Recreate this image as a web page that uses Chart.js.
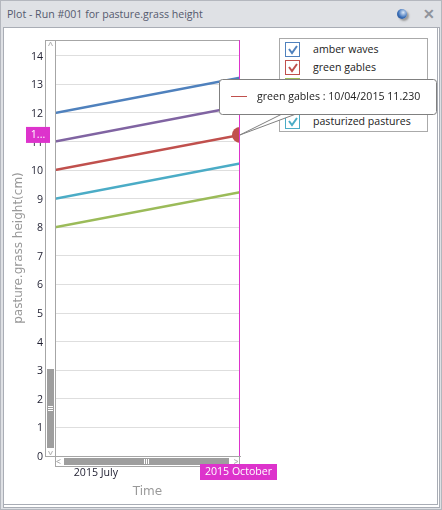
<!DOCTYPE html>
<html>
<head>
<meta charset="utf-8">
<title>Plot</title>
<script src="https://cdn.jsdelivr.net/npm/chart.js@4"></script>
<style>
html, body { margin: 0; padding: 0; background: #fff; }
body { width: 442px; height: 510px; position: relative; overflow: hidden; font-family: "Open Sans", "Noto Sans", sans-serif; }
#frame { position: absolute; left: 0; top: 0; width: 440px; height: 508px; border: 1px solid #b4b7be; background: #dfe1e5; }
#title { position: absolute; left: 6px; top: 6px; font-size: 10.6px; color: #555a6e; }
#help { position: absolute; left: 396px; top: 8px; width: 10px; height: 10px; border-radius: 50%; box-shadow: 2px 2px 2px #9a9a9a; background: radial-gradient(circle at 62% 35%, #dbe8f8, #3a6fb8 55%, #1f4480); }
#close { position: absolute; left: 422px; top: 5px; font-size: 14px; font-weight: bold; color: #8f939b; line-height: 16px; }
#outerLine { position: absolute; left: 2px; top: 26px; width: 435px; height: 479px; background: #fff; border: 1px solid #a9adb5; }
#inner { position: absolute; left: 0; top: 0; width: 433px; height: 476px; background: #fff; border-right: 1px solid #a9adb5; border-bottom: 1px solid #a9adb5; }
#chartBox { position: absolute; left: 0; top: 0; width: 442px; height: 510px; }
#legend { position: absolute; left: 279px; top: 38px; width: 147px; height: 92px; border: 1px solid #aaa; background: #fff; font-size: 10.6px; color: #222; }
.item { position: absolute; left: 5px; height: 14px; }
.box { position: absolute; left: 0; top: 0; width: 13px; height: 13px; border: 1px solid; }
.box svg { position: absolute; left: 1px; top: 1px; }
.item span { position: absolute; left: 28px; top: 0; white-space: nowrap; }
</style>
</head>
<body>
<div id="frame">
  <div id="title">Plot - Run #001 for pasture.grass height</div>
  <div id="help"></div>
  <div id="close">✕</div>
  <div id="outerLine"><div id="inner"></div></div>
</div>
<div id="legend"></div>
<div id="chartBox"><canvas id="plot" width="442" height="510"></canvas></div>
<script>
// data
const dates = [Date.UTC(2015, 5, 4), Date.UTC(2015, 9, 4)];
const seriesNames = ['amber waves', 'green gables', '', '', 'pasturized pastures'];
const seriesColors = ['#4f81bd', '#c0504d', '#9bbb59', '#8064a2', '#4bacc6'];
const amberWaves = [12, 13.23];
const greenGables = [10, 11.23];
const hiddenGreen = [8, 9.23];
const hiddenPurple = [11, 12.23];
const pasturizedPastures = [9, 10.23];
const yTicks = [0, 1, 2, 3, 4, 5, 6, 7, 8, 9, 10, 11, 12, 13, 14];
const xTickDate = Date.UTC(2015, 6, 1);
const xTickLabel = '2015 July';
const hoverLabel = '2015 October';
const hoverText = 'green gables : 10/04/2015 11.230';

const values = [amberWaves, greenGables, hiddenGreen, hiddenPurple, pasturizedPastures];
const magenta = '#dd33cc';
const frameGrey = '#a6a6a6';

// legend on the right
const legend = document.getElementById('legend');
const rows = [3, 21, 39, 57, 75];
seriesNames.forEach((name, i) => {
    const c = seriesColors[i];
    legend.innerHTML += `<div class="item" style="top:${rows[i]}px">
        <div class="box" style="border-color:${c}"><svg width="11" height="11"><path d="M2 5 L5 9 L10 2" fill="none" stroke="${c}" stroke-width="2"/></svg></div>
        <span>${name}</span></div>`;
});

function chevron(ctx, x, y, dx, dy) {
    ctx.beginPath();
    ctx.moveTo(x - dx - dy, y - dy + dx);
    ctx.lineTo(x + dx * 1, y + dy * 1);
    ctx.lineTo(x - dx + dy, y - dy - dx);
    ctx.stroke();
}

// scrollbars, crosshair, badges and the callout
const overlay = {
    id: 'overlay',
    afterDraw(chart) {
        const ctx = chart.ctx;
        const { x, y } = chart.scales;
        const a = chart.chartArea;
        const px = x.getPixelForValue(dates[1]);
        const py = y.getPixelForValue(greenGables[1]);
        ctx.save();
        ctx.lineWidth = 1;

        // hover point, clipped by the plot edge
        ctx.save();
        ctx.beginPath();
        ctx.rect(a.left, a.top, a.right - a.left, a.bottom - a.top);
        ctx.clip();
        ctx.fillStyle = seriesColors[1];
        ctx.beginPath();
        ctx.arc(px, py, 8, 0, Math.PI * 2);
        ctx.fill();
        ctx.restore();

        // frames of the plot and the scroll strips
        ctx.strokeStyle = frameGrey;
        ctx.strokeRect(45.5, a.top + 0.5, a.left - 45, a.bottom - a.top);
        ctx.strokeRect(a.left + 0.5, a.top + 0.5, a.right - a.left - 1, a.bottom - a.top);
        ctx.strokeRect(a.left + 0.5, a.bottom + 0.5, a.right - a.left - 1, 10);

        // crosshair line
        ctx.fillStyle = magenta;
        ctx.fillRect(px - 1, a.top, 1, a.bottom - a.top);

        // scroll thumbs, grips and arrows
        ctx.fillStyle = '#9e9e9e';
        ctx.fillRect(47, 369, 7, 79);
        ctx.fillRect(64, 458, 165, 7);
        ctx.fillStyle = '#fff';
        [0, 2, 4].forEach(d => {
            ctx.fillRect(48, 406 + d, 5, 1);
            ctx.fillRect(144 + d, 459, 1, 5);
        });
        ctx.strokeStyle = '#b0b0b0';
        chevron(ctx, 50.5, 44, 0, -2);
        chevron(ctx, 50.5, 453, 0, 2);
        chevron(ctx, 58.5, 461.5, -2, 0);
        chevron(ctx, 236, 461.5, 2, 0);

        // badges
        ctx.fillStyle = magenta;
        ctx.fillRect(26, py - 8, 24, 16);
        ctx.fillRect(200, 464, 77, 16);
        ctx.fillStyle = '#fff';
        ctx.font = '10.6px "Open Sans"';
        ctx.textAlign = 'center';
        ctx.textBaseline = 'middle';
        ctx.fillText('1...', 38, py);
        ctx.fillText(hoverLabel, 238.5, 472);

        // callout
        ctx.fillStyle = '#fff';
        ctx.strokeStyle = '#808080';
        ctx.beginPath();
        ctx.moveTo(px, py);
        ctx.lineTo(282, 114);
        ctx.lineTo(296, 114);
        ctx.closePath();
        ctx.fill();
        ctx.stroke();
        ctx.beginPath();
        ctx.roundRect(219.5, 79.5, 217, 35, 3);
        ctx.fill();
        ctx.stroke();
        ctx.strokeStyle = seriesColors[1];
        ctx.beginPath();
        ctx.moveTo(231, 96.5);
        ctx.lineTo(247, 96.5);
        ctx.stroke();
        ctx.fillStyle = '#222';
        ctx.textAlign = 'left';
        ctx.fillText(hoverText, 257, 97);
        ctx.restore();
    }
};

new Chart(document.getElementById('plot').getContext('2d'), {
    type: 'line',
    data: {
        datasets: values.map((v, i) => ({
            label: seriesNames[i],
            data: dates.map((d, j) => ({ x: d, y: v[j] })),
            borderColor: seriesColors[i],
            borderWidth: 2.5,
            pointRadius: 0,
            tension: 0
        }))
    },
    options: {
        responsive: false,
        animation: false,
        layout: { padding: { left: 12, top: 40, right: 202, bottom: 11 } },
        plugins: { legend: { display: false }, tooltip: { enabled: false } },
        scales: {
            x: {
                type: 'linear',
                min: dates[0],
                max: dates[1],
                afterFit(scale) { scale.height = 43; },
                afterBuildTicks(scale) { scale.ticks = [{ value: xTickDate }]; },
                grid: { display: false },
                border: { color: frameGrey },
                ticks: {
                    maxRotation: 0,
                    padding: 3,
                    color: '#1e1e30',
                    font: { family: 'Open Sans', size: 10.6 },
                    callback: () => xTickLabel
                },
                title: { display: true, text: 'Time', color: '#999999', padding: { top: 5, bottom: 0 }, font: { family: 'DejaVu Sans', size: 12 } }
            },
            y: {
                min: 0,
                max: 14.55,
                afterFit(scale) { scale.width = 43; },
                afterBuildTicks(scale) { scale.ticks = yTicks.map(v => ({ value: v })); },
                grid: { color: '#dedede', drawTicks: false },
                border: { color: frameGrey },
                ticks: { padding: 12, labelOffset: 1, color: '#1e1e30', font: { family: 'Open Sans', size: 10.6 } },
                title: { display: true, text: 'pasture.grass height(cm)', color: '#999999', padding: 0, font: { family: 'DejaVu Sans', size: 12 } }
            }
        }
    },
    plugins: [overlay]
});
</script>
</body>
</html>
